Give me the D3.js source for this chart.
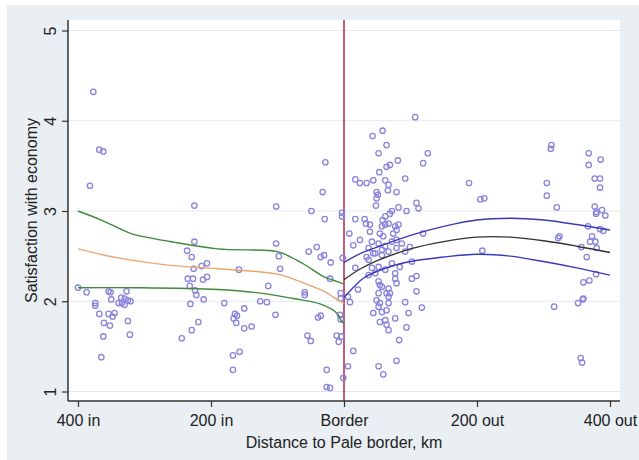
<!DOCTYPE html>
<html>
<head>
<meta charset="utf-8">
<script src="https://cdn.jsdelivr.net/npm/d3@7"></script>
<style>
  body { margin: 0; background: #fff; }
  text { font-family: "Liberation Sans", Arial, sans-serif; fill: #222; }
</style>
</head>
<body>
<script>
// distance (km, negative = inside the Pale) and satisfaction values
var insidePts = [
  [-377,4.32],[-368,3.68],[-362,3.66],[-382,3.28],[-225,3.06],[-400,2.15],[-387,2.10],[-374,1.98],[-374,1.95],
  [-368,1.86],[-354,2.11],[-351,2.10],[-327,2.11],[-350,2.02],[-335,2.04],[-330,2.03],[-325,2.01],[-321,2.00],
  [-339,1.98],[-334,1.98],[-330,1.96],[-354,1.86],[-345,1.87],[-348,1.83],[-361,1.76],[-352,1.73],[-325,1.78],
  [-362,1.61],[-322,1.63],[-365,1.38],
  [-225,2.66],[-236,2.56],[-229,2.49],[-226,2.36],[-214,2.39],[-206,2.42],[-235,2.25],[-227,2.25],[-232,2.17],
  [-206,2.27],[-212,2.24],[-224,2.12],[-222,2.07],[-211,2.02],[-231,1.97],[-219,1.77],[-229,1.68],[-244,1.59],
  [-28,3.54],[-32,3.21],[-102,3.05],[-49,3.00],[-29,2.91],[-3,2.98],[-3,2.94],[-102,2.64],[-53,2.55],[-41,2.60],
  [-35,2.49],[-30,2.51],[-20,2.43],[-98,2.50],[-2,2.48],[-158,2.35],[-96,2.36],[-114,2.17],[-59,2.10],[-59,2.07],
  [-21,2.25],[-5,2.09],[-5,2.03],[-180,1.98],[-126,2.00],[-116,1.99],[-150,1.92],[-164,1.86],[-161,1.84],
  [-166,1.81],[-162,1.76],[-150,1.70],[-139,1.72],[-103,1.85],[-39,1.82],[-35,1.84],[-6,1.85],[-5,1.80],
  [-55,1.62],[-50,1.56],[-11,1.62],[-8,1.55],[-4,1.61],[-167,1.40],[-157,1.44],[-167,1.24],[-26,1.24],
  [-26,1.05],[-21,1.04],[-1,1.15]
];
var outsidePts = [
  [107,4.04],[43,3.83],[58,3.89],[64,3.73],[52,3.64],[126,3.64],[119,3.53],[81,3.56],[64,3.49],[69,3.51],
  [53,3.43],[92,3.36],[17,3.35],[24,3.31],[34,3.31],[44,3.34],[62,3.34],[67,3.29],[66,3.23],[79,3.21],
  [49,3.21],[51,3.18],[49,3.14],[48,3.06],[82,3.04],[94,3.00],[109,3.09],[112,3.03],[17,2.91],[31,2.91],
  [33,2.86],[39,2.85],[58,2.90],[62,2.94],[69,2.97],[72,3.00],[57,2.83],[62,2.85],[67,2.86],[77,2.83],
  [82,2.85],[39,2.77],[54,2.75],[59,2.72],[74,2.75],[79,2.79],[8,2.75],[24,2.68],[42,2.66],[52,2.64],
  [62,2.61],[72,2.66],[79,2.68],[87,2.64],[14,2.62],[37,2.59],[34,2.49],[47,2.53],[57,2.57],[67,2.55],
  [79,2.59],[92,2.55],[99,2.60],[119,2.75],
  [17,2.37],[37,2.46],[42,2.37],[52,2.38],[62,2.35],[72,2.42],[77,2.31],[84,2.38],[102,2.44],[57,2.51],
  [44,2.53],[47,2.31],[37,2.29],[52,2.22],[54,2.18],[57,2.16],[67,2.14],[69,2.09],[67,2.05],[77,2.25],
  [79,2.20],[102,2.25],[109,2.28],[109,2.11],[52,2.09],[49,2.01],[54,1.98],[52,1.94],[67,1.98],[64,2.09],
  [92,1.99],[117,1.93],[97,1.87],[77,1.81],[62,1.79],[54,1.77],[64,1.74],[67,1.68],[94,1.71],[44,1.87],
  [57,1.88],[64,1.90],[83,1.57],[79,1.34],[52,1.28],[59,1.19],[21,2.13],[14,1.45],[6,1.28],[6,2.05],[9,1.99],
  [188,3.31],[205,3.13],[211,3.14],[312,3.73],[311,3.69],[305,3.31],[305,3.17],[320,3.04],[368,3.64],
  [368,3.51],[386,3.57],[377,3.36],[385,3.36],[385,3.26],[377,3.05],[380,2.99],[388,3.01],[393,2.95],
  [379,2.97],[367,2.83],[385,2.80],[390,2.78],[324,2.72],[322,2.70],[373,2.72],[370,2.66],[378,2.66],
  [357,2.60],[380,2.59],[365,2.49],[208,2.56],[360,2.21],[369,2.23],[360,2.03],[379,2.30],[316,1.94],
  [352,1.98],[359,2.02],[356,1.37],[358,1.32]
];

// fitted curves inside the Pale: upper band, fit, lower band
var inKm    = [-400,-365,-320,-290,-260,-190,-100,-80,-60,-30,-15,0];
var inUpper = [3.00,2.90,2.75,2.70,2.66,2.58,2.55,2.49,2.41,2.27,2.23,2.19];
var inFitKm = [-400,-340,-265,-190,-100,-60,-30,-6,0];
var inFit   = [2.58,2.48,2.40,2.36,2.30,2.20,2.11,2.00,1.98];
var inLowKm = [-400,-315,-190,-126,-76,-36,-11,-3,0];
var inLower = [2.15,2.15,2.13,2.09,2.03,1.97,1.87,1.77,1.76];

// fitted curves outside the Pale
var outKm    = [0,25,50,100,150,200,250,300,350,400];
var outUpper = [2.43,2.53,2.60,2.73,2.83,2.90,2.92,2.90,2.85,2.79];
var outFit   = [2.24,2.36,2.45,2.58,2.66,2.71,2.71,2.67,2.61,2.54];
var outLowKm = [0,15,30,60,100,150,200,250,300,350,400];
var outLower = [2.04,2.16,2.26,2.36,2.44,2.49,2.52,2.50,2.44,2.37,2.29];

var xTicks = [-400,-200,0,200,400];
var xTickLabels = ["400 in","200 in","Border","200 out","400 out"];
var yTicks = [1,2,3,4,5];

var W = 639, H = 460;
var pL = 68, pR = 620, pT = 20, pB = 401;

var svg = d3.select("body").append("svg")
    .attr("width", W)
    .attr("height", H);

svg.append("rect").attr("x", 7).attr("y", 5).attr("width", W - 7).attr("height", H - 5)
    .attr("fill", "#e9eff3");
svg.append("rect").attr("x", pL).attr("y", pT).attr("width", pR - pL).attr("height", pB - pT)
    .attr("fill", "#fff");

var x = d3.scaleLinear().domain([-400, 400]).range([78, 610]);
var y = d3.scaleLinear().domain([1, 5]).range([391.5, 30.5]);

// grid
svg.append("g").selectAll("line")
    .data(yTicks)
  .enter().append("line")
    .attr("x1", pL).attr("x2", pR)
    .attr("y1", function(d) { return y(d); })
    .attr("y2", function(d) { return y(d); })
    .attr("stroke", "#e3eaee")
    .attr("stroke-width", 1);

// border line
svg.append("line")
    .attr("x1", x(0)).attr("x2", x(0))
    .attr("y1", pT).attr("y2", pB)
    .attr("stroke", "#a8264e")
    .attr("stroke-width", 1.5);

// points
svg.append("g").selectAll("circle")
    .data(insidePts.concat(outsidePts))
  .enter().append("circle")
    .attr("cx", function(d) { return x(d[0]); })
    .attr("cy", function(d) { return y(d[1]); })
    .attr("r", 2.7)
    .attr("fill", "none")
    .attr("stroke", "#8884dc")
    .attr("stroke-width", 1.3);

// curves
var line = d3.line()
    .x(function(d) { return x(d[0]); })
    .y(function(d) { return y(d[1]); })
    .curve(d3.curveCatmullRom);

function drawCurve(kms, vals, color) {
  svg.append("path")
      .datum(d3.zip(kms, vals))
      .attr("d", line)
      .attr("fill", "none")
      .attr("stroke", color)
      .attr("stroke-width", 1.4);
}
drawCurve(inKm, inUpper, "#3d8a3d");
drawCurve(inFitKm, inFit, "#eba56c");
drawCurve(inLowKm, inLower, "#3d8a3d");
drawCurve(outKm, outUpper, "#3a3ab8");
drawCurve(outKm, outFit, "#333");
drawCurve(outLowKm, outLower, "#3a3ab8");

// axes
var xAxis = svg.append("g")
    .attr("transform", "translate(0," + pB + ")")
    .call(d3.axisBottom(x).tickValues(xTicks).tickSize(6).tickSizeOuter(0)
      .tickFormat(function(d, i) { return xTickLabels[i]; }));
xAxis.select(".domain").remove();
xAxis.selectAll(".tick line").attr("stroke", "#333").attr("stroke-width", 1.2);
xAxis.selectAll(".tick text").attr("font-size", 16).attr("fill", "#222").attr("dy", null).attr("y", 25);

var yAxis = svg.append("g")
    .attr("transform", "translate(" + pL + ",0)")
    .call(d3.axisLeft(y).tickValues(yTicks).tickSize(6).tickSizeOuter(0).tickFormat(d3.format("d")));
yAxis.select(".domain").remove();
yAxis.selectAll(".tick line").attr("stroke", "#333").attr("stroke-width", 1.2);
yAxis.selectAll(".tick text")
    .attr("font-size", 16).attr("fill", "#222")
    .attr("x", null).attr("dy", null)
    .attr("text-anchor", "middle")
    .attr("transform", "translate(-12.5,0) rotate(-90)");

svg.append("line").attr("x1", pL).attr("x2", pR).attr("y1", pB).attr("y2", pB)
    .attr("stroke", "#333").attr("stroke-width", 1.5);
svg.append("line").attr("x1", pL).attr("x2", pL).attr("y1", pT).attr("y2", pB)
    .attr("stroke", "#333").attr("stroke-width", 1.5);

svg.append("text")
    .attr("x", x(0)).attr("y", 448)
    .attr("text-anchor", "middle")
    .attr("font-size", 16)
    .text("Distance to Pale border, km");

svg.append("text")
    .attr("transform", "translate(37," + ((pT + pB) / 2) + ") rotate(-90)")
    .attr("text-anchor", "middle")
    .attr("font-size", 16)
    .text("Satisfaction with economy");
</script>
</body>
</html>
